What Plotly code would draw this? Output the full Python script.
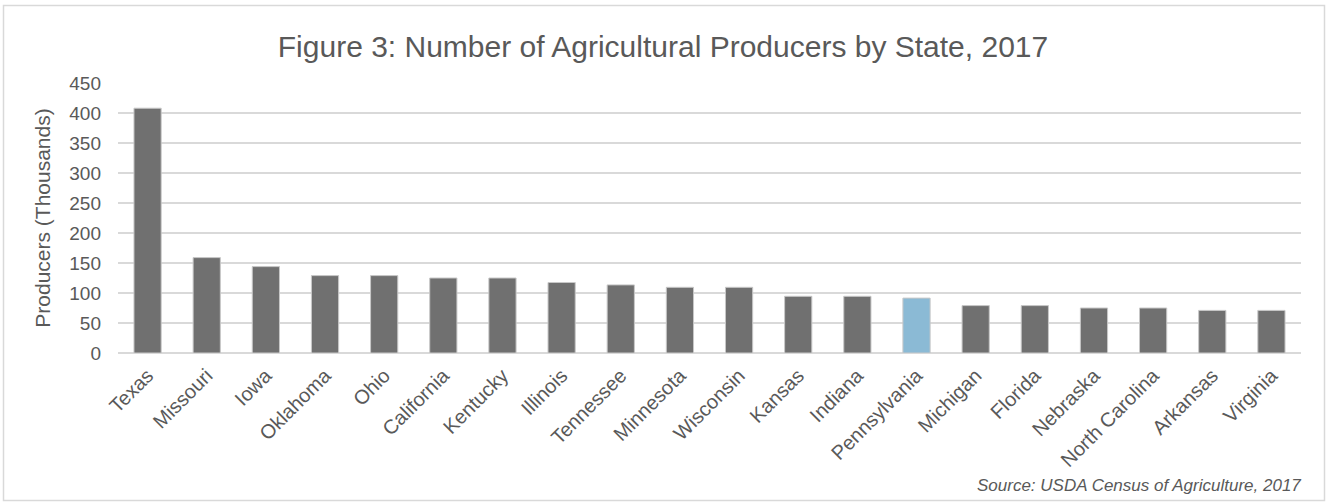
import plotly.graph_objects as go

# Producers by state, 2017 (thousands)
states = ["Texas", "Missouri", "Iowa", "Oklahoma", "Ohio", "California", "Kentucky",
          "Illinois", "Tennessee", "Minnesota", "Wisconsin", "Kansas", "Indiana",
          "Pennsylvania", "Michigan", "Florida", "Nebraska", "North Carolina",
          "Arkansas", "Virginia"]
producers = [408, 159, 144, 129, 129, 125, 125, 117.5, 113.5, 109.5, 109.5,
             94.5, 94.5, 91.5, 79, 79, 75, 75, 71, 71]
highlight = "Pennsylvania"
y_ticks = [0, 50, 100, 150, 200, 250, 300, 350, 400, 450]

W, H = 1326, 502
L, R, T, B = 118, 25, 83, 149
pw, ph = W - L - R, H - T - B

def px_x(x):
    return (x - L) / pw

def px_y(y):
    return (H - B - y) / ph

GRAY_TEXT = "#595959"
FONT = "Liberation Sans"

colors = ["#8bbad5" if s == highlight else "#707070" for s in states]

fig = go.Figure(go.Bar(
    x=states, y=producers,
    marker=dict(color=colors, line=dict(color="#c8c8c8", width=1)),
    width=0.46,
))

fig.update_layout(
    width=W, height=H,
    margin=dict(l=L, r=R, t=T, b=B),
    paper_bgcolor="white", plot_bgcolor="white",
    showlegend=False,
    font=dict(family=FONT, color=GRAY_TEXT),
    title=dict(text="Figure 3: Number of Agricultural Producers by State, 2017",
               x=0.5, xref="container", xanchor="center",
               y=1 - 46 / H, yanchor="middle",
               font=dict(size=30, color=GRAY_TEXT, family=FONT)),
    xaxis=dict(tickangle=-45, tickfont=dict(size=20, color=GRAY_TEXT),
               showgrid=False, showline=False, ticks="", ticklabelstandoff=6,
               range=[-0.5, len(states) - 0.5]),
    yaxis=dict(range=[0, 450], tickvals=y_ticks, ticktext=[str(v) for v in y_ticks],
               tickfont=dict(size=19, color=GRAY_TEXT),
               showgrid=True, gridcolor="#d9d9d9", gridwidth=2,
               zeroline=True, zerolinecolor="#d9d9d9", zerolinewidth=2,
               showline=False, ticks="", ticklabelstandoff=16,
               title=dict(text="Producers (Thousands)",
                          font=dict(size=21, color=GRAY_TEXT), standoff=12)),
    shapes=[dict(type="rect", xref="paper", yref="paper",
                 x0=px_x(3.5), x1=px_x(1324.5), y0=px_y(500.5), y1=px_y(5.5),
                 line=dict(color="#d9d9d9", width=1.5), fillcolor="rgba(0,0,0,0)",
                 layer="below")],
    annotations=[dict(text="<i>Source: USDA Census of Agriculture, 2017</i>",
                      xref="paper", yref="paper", x=px_x(1303), y=px_y(497),
                      xanchor="right", yanchor="bottom", showarrow=False,
                      font=dict(size=17, color=GRAY_TEXT, family=FONT))],
)

fig.write_html("out.html")
